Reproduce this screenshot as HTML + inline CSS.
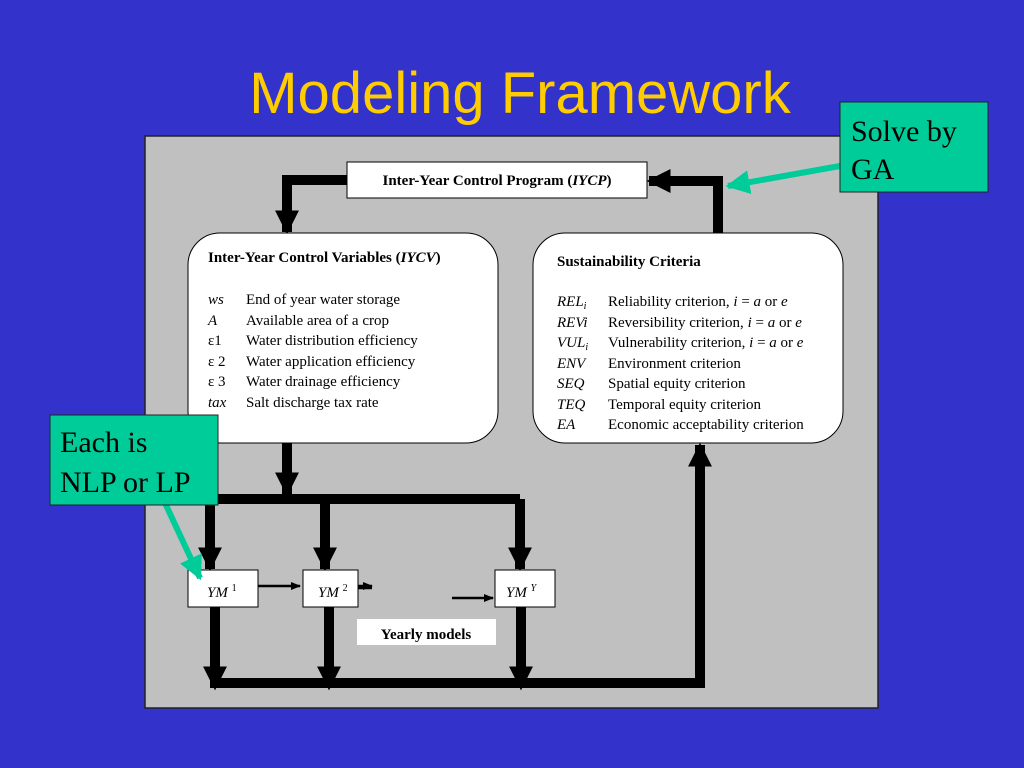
<!DOCTYPE html>
<html><head><meta charset="utf-8"><style>
body{margin:0;background:#3333cc;}
svg{display:block}
.t{font-family:"Liberation Serif",serif;font-size:15px;fill:#000}
.b{font-weight:bold}
</style></head><body>
<svg width="1024" height="768" xmlns="http://www.w3.org/2000/svg">
<rect width="1024" height="768" fill="#3333cc"/>
<text x="520" y="113" text-anchor="middle" font-family="Liberation Sans,sans-serif" font-size="58" fill="#ffcc00">Modeling Framework</text>
<rect x="145" y="136" width="733" height="572" fill="#c0c0c0" stroke="#222" stroke-width="1.5"/>
<defs>
<marker id="a" viewBox="0 0 10 10" refX="9" refY="5" markerWidth="2.4" markerHeight="2.4" orient="auto-start-reverse"><path d="M0,0L10,5L0,10z" fill="#000"/></marker>
<marker id="s" viewBox="0 0 10 10" refX="9" refY="5" markerWidth="4" markerHeight="4" orient="auto"><path d="M0,1L10,5L0,9z" fill="#000"/></marker>
<marker id="g" viewBox="0 0 10 10" refX="9" refY="5" markerWidth="4" markerHeight="4" orient="auto"><path d="M0,0L10,5L0,10z" fill="#00cc99"/></marker>
</defs>
<g fill="none" stroke="#000" stroke-width="10">
<path d="M347,180H287V232" marker-end="url(#a)"/>
<path d="M718,233V181H649" marker-end="url(#a)"/>
<path d="M287,443V494" marker-end="url(#a)"/>
<path d="M205,499H520"/>
<path d="M210,499V569" marker-end="url(#a)"/>
<path d="M325,499V569" marker-end="url(#a)"/>
<path d="M520,499V569" marker-end="url(#a)"/>
<path d="M215,607V688" marker-end="url(#a)"/>
<path d="M329,607V688" marker-end="url(#a)"/>
<path d="M521,607V688" marker-end="url(#a)"/>
<path d="M215,683H700V445" marker-end="url(#a)"/>
</g>
<g stroke="#000" stroke-width="2.5">
<path d="M258,586H300" marker-end="url(#s)"/>
<path d="M358,586H372" marker-end="url(#s)"/>
<path d="M452,598H493" marker-end="url(#s)"/>
<path d="M372,586H372"/>
</g>
<path d="M358,588H372" stroke="#000" stroke-width="2.5"/>
<rect x="347" y="162" width="300" height="36" fill="#fff" stroke="#000"/>
<text x="497" y="185" text-anchor="middle" class="t b">Inter-Year Control Program (<tspan font-style="italic">IYCP</tspan>)</text>
<rect x="188" y="233" width="310" height="210" rx="32" fill="#fff" stroke="#000"/>
<text x="208" y="262" class="t b">Inter-Year Control Variables (<tspan font-style="italic">IYCV</tspan>)</text>
<g class="t">
<text x="208" y="304" font-style="italic">ws</text><text x="246" y="304">End of year water storage</text>
<text x="208" y="325" font-style="italic">A</text><text x="246" y="325">Available area of a crop</text>
<text x="208" y="345">ε1</text><text x="246" y="345">Water distribution efficiency</text>
<text x="208" y="366">ε 2</text><text x="246" y="366">Water application efficiency</text>
<text x="208" y="386">ε 3</text><text x="246" y="386">Water drainage efficiency</text>
<text x="208" y="407" font-style="italic">tax</text><text x="246" y="407">Salt discharge tax rate</text>
</g>
<rect x="533" y="233" width="310" height="210" rx="32" fill="#fff" stroke="#000"/>
<text x="557" y="266" class="t b">Sustainability Criteria</text>
<g class="t">
<text x="557" y="306" font-style="italic">REL<tspan font-size="10" dy="3">i</tspan></text><text x="608" y="306">Reliability criterion, <tspan font-style="italic">i</tspan> = <tspan font-style="italic">a</tspan> or <tspan font-style="italic">e</tspan></text>
<text x="557" y="327" font-style="italic">REVi</text><text x="608" y="327">Reversibility criterion, <tspan font-style="italic">i</tspan> = <tspan font-style="italic">a</tspan> or <tspan font-style="italic">e</tspan></text>
<text x="557" y="347" font-style="italic">VUL<tspan font-size="10" dy="3">i</tspan></text><text x="608" y="347">Vulnerability criterion, <tspan font-style="italic">i</tspan> = <tspan font-style="italic">a</tspan> or <tspan font-style="italic">e</tspan></text>
<text x="557" y="368" font-style="italic">ENV</text><text x="608" y="368">Environment criterion</text>
<text x="557" y="388" font-style="italic">SEQ</text><text x="608" y="388">Spatial equity criterion</text>
<text x="557" y="409" font-style="italic">TEQ</text><text x="608" y="409">Temporal equity criterion</text>
<text x="557" y="429" font-style="italic">EA</text><text x="608" y="429">Economic acceptability criterion</text>
</g>
<rect x="188" y="570" width="70" height="37" fill="#fff" stroke="#000"/>
<text x="207" y="597" class="t"><tspan font-style="italic">YM</tspan> <tspan font-size="10" dy="-6">1</tspan></text>
<rect x="303" y="570" width="55" height="37" fill="#fff" stroke="#000"/>
<text x="318" y="597" class="t"><tspan font-style="italic">YM</tspan> <tspan font-size="10" dy="-6">2</tspan></text>
<rect x="495" y="570" width="60" height="37" fill="#fff" stroke="#000"/>
<text x="506" y="597" class="t"><tspan font-style="italic">YM</tspan> <tspan font-size="10" font-style="italic" dy="-6">Y</tspan></text>
<rect x="357" y="619" width="139" height="26" fill="#fff"/>
<text x="426" y="639" text-anchor="middle" class="t b">Yearly models</text>
<path d="M840,166L728,186" stroke="#00cc99" stroke-width="6" marker-end="url(#g)"/>
<path d="M165,503L200,578" stroke="#00cc99" stroke-width="6" marker-end="url(#g)"/>
<rect x="840" y="102" width="148" height="90" fill="#00cc99" stroke="#222"/>
<text x="851" y="141" font-family="Liberation Serif,serif" font-size="30" fill="#000">Solve by</text>
<text x="851" y="179" font-family="Liberation Serif,serif" font-size="30" fill="#000">GA</text>
<rect x="50" y="415" width="168" height="90" fill="#00cc99" stroke="#222"/>
<text x="60" y="452" font-family="Liberation Serif,serif" font-size="30" fill="#000">Each is</text>
<text x="60" y="492" font-family="Liberation Serif,serif" font-size="30" fill="#000">NLP or LP</text>
</svg>
</body></html>
